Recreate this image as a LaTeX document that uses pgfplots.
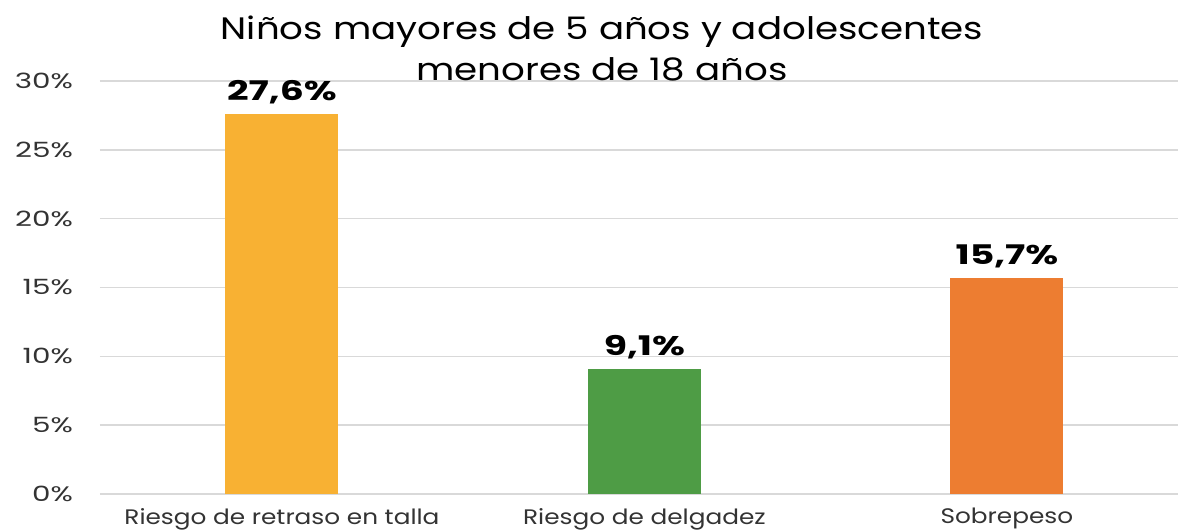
\documentclass[border=0pt]{standalone}
\usepackage{pgfplots}
\pgfplotsset{compat=1.18}
\usepackage{fontspec}
\setmainfont{Poppins}
\newfontfamily\titlefont[FakeStretch=1.2]{Poppins}
\newfontfamily\catfont[FakeStretch=1.18]{Poppins}
\newfontfamily\tickfont[FakeStretch=1.4]{Poppins}
\newfontfamily\valfont[FakeStretch=1.4]{Poppins}
\definecolor{cYel}{HTML}{F8B133}
\definecolor{cGrn}{HTML}{4E9C45}
\definecolor{cOrg}{HTML}{ED7D31}
\definecolor{cGrid}{HTML}{D9D9D9}
\definecolor{cTxt}{HTML}{333333}
\begin{document}
\begin{tikzpicture}
\begin{axis}[
    at={(0,0)}, anchor=south west,
    scale only axis,
    width=539pt, height=206.5pt,
    xmin=-0.502, xmax=2.472,
    ymin=0, ymax=30,
    ytick={0,5,10,15,20,25,30},
    yticklabel={\pgfmathprintnumber[assume math mode=true]{\tick}\%},
    yticklabel style={font=\tickfont\fontsize{10.5}{12}\selectfont, text=cTxt, xshift=-10pt},
    xtick={0,1,2},
    xticklabels={Riesgo de retraso en talla, Riesgo de delgadez, Sobrepeso},
    xticklabel style={font=\catfont\fontsize{10.5}{12}\selectfont, text=cTxt, yshift=-3.5pt},
    major tick length=0pt,
    axis x line*=bottom, axis y line*=left,
    y axis line style={draw=none},
    x axis line style={cGrid, line width=0.8pt},
    ymajorgrids, grid style={cGrid, line width=0.8pt},
    ybar, bar width=56.5pt, bar shift=0pt,
    nodes near coords={\pgfmathprintnumber[fixed,fixed zerofill,precision=1,use comma,assume math mode=true]{\pgfplotspointmeta}\%},
    nodes near coords style={font=\valfont\fontsize{13.5}{16}\selectfont\bfseries, text=black, yshift=1.5pt},
    clip=false,
]
\addplot[fill=cYel, draw=none] coordinates {(0,27.6)};
\addplot[fill=cGrn, draw=none] coordinates {(1,9.1)};
\addplot[fill=cOrg, draw=none] coordinates {(2,15.7)};
\end{axis}
\node[anchor=north, align=center, font=\titlefont\fontsize{15.5}{20.5}\selectfont, text=black, inner sep=0pt] at (251pt,247pt-8pt)
  {Niños mayores de 5 años y adolescentes\\menores de 18 años};
\pgfresetboundingbox
\path (-50pt,-18.5pt) rectangle (539pt,247pt);
\end{tikzpicture}
\end{document}
